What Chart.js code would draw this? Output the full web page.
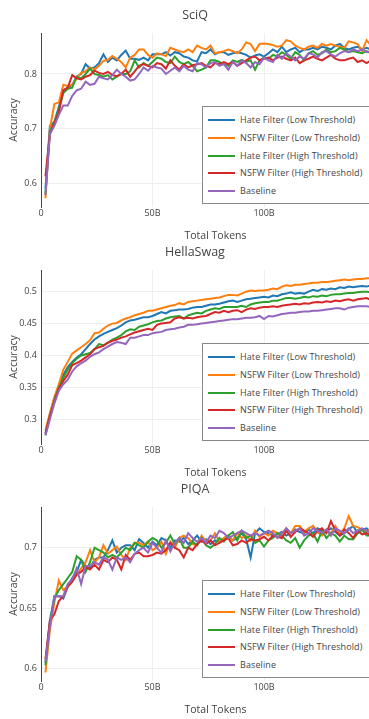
<!DOCTYPE html>
<html><head><meta charset="utf-8">
<script src="https://cdn.jsdelivr.net/npm/chart.js@4"></script>
<style>
html,body{margin:0;padding:0;background:#fff;overflow:hidden;width:369px;height:719px;position:relative;}
.panel{position:absolute;left:0;width:390px;height:245px;}
.panel canvas{display:block;position:absolute;left:0;top:0;}
.legend{position:absolute;left:202px;top:106px;width:200px;height:96px;border:1px solid #888;background:#fff;font-family:"Open Sans",sans-serif;font-size:9px;letter-spacing:0.1px;color:#444;}
.item{position:absolute;left:0;height:14px;line-height:14px;white-space:nowrap;width:195px;}
.swatch{position:absolute;left:5px;top:6px;width:27px;height:2px;}
.label{position:absolute;left:37px;top:0;}
</style></head>
<body>
<div class="panel" id="p0" style="top:0px"><canvas id="c0" width="390" height="245"></canvas></div>
<div class="panel" id="p1" style="top:237px"><canvas id="c1" width="390" height="245"></canvas></div>
<div class="panel" id="p2" style="top:474px"><canvas id="c2" width="390" height="245"></canvas></div>
<script>
const tokens = [2,4,6,8,10,12,14,16,18,20,22,24,26,28,30,32,34,36,38,40,42,44,46,48,50,52,54,56,58,60,62,64,66,68,70,72,74,76,78,80,82,84,86,88,90,92,94,96,98,100,102,104,106,108,110,112,114,116,118,120,122,124,126,128,130,132,134,136,138,140,142,144,146,148];
const seriesNames = ['Hate Filter (Low Threshold)','NSFW Filter (Low Threshold)','Hate Filter (High Threshold)','NSFW Filter (High Threshold)','Baseline'];
const seriesColors = ['#1f77b4','#ff7f0e','#2ca02c','#d62728','#9467bd'];
const xTicks = [0,50,100];
const xTickLabels = ['0','50B','100B'];

const sciqTicks = [0.6,0.7,0.8];
const sciqTickLabels = ['0.6','0.7','0.8'];
const sciqHateLow = [0.590,0.705,0.712,0.740,0.770,0.775,0.780,0.795,0.800,0.818,
0.810,0.812,0.820,0.836,0.822,0.830,0.825,0.835,0.843,0.828,
0.828,0.826,0.830,0.825,0.836,0.836,0.836,0.840,0.834,0.840,
0.838,0.832,0.830,0.825,0.823,0.840,0.838,0.845,0.836,0.840,
0.840,0.835,0.838,0.840,0.838,0.835,0.830,0.834,0.836,0.832,
0.838,0.845,0.840,0.850,0.840,0.845,0.848,0.840,0.845,0.845,
0.848,0.845,0.850,0.848,0.845,0.852,0.855,0.848,0.845,0.848,
0.850,0.845,0.848,0.845];
const sciqNsfwLow = [0.572,0.700,0.745,0.748,0.780,0.778,0.780,0.792,0.802,0.805,
0.812,0.808,0.815,0.824,0.826,0.833,0.828,0.822,0.812,0.830,
0.835,0.845,0.845,0.835,0.830,0.838,0.836,0.833,0.848,0.845,
0.842,0.840,0.845,0.840,0.852,0.848,0.845,0.852,0.838,0.840,
0.842,0.845,0.842,0.838,0.845,0.858,0.855,0.842,0.855,0.856,
0.855,0.853,0.850,0.852,0.862,0.860,0.852,0.848,0.845,0.850,
0.852,0.848,0.855,0.852,0.855,0.852,0.850,0.848,0.860,0.858,
0.855,0.842,0.862,0.852];
const sciqHateHigh = [0.580,0.695,0.712,0.735,0.765,0.773,0.775,0.795,0.792,0.800,
0.810,0.800,0.798,0.795,0.798,0.790,0.795,0.800,0.800,0.805,
0.825,0.812,0.820,0.815,0.822,0.830,0.828,0.822,0.820,0.832,
0.822,0.818,0.822,0.815,0.805,0.808,0.812,0.825,0.825,0.822,
0.818,0.815,0.825,0.822,0.826,0.822,0.825,0.808,0.825,0.830,
0.828,0.835,0.832,0.840,0.835,0.828,0.840,0.835,0.825,0.838,
0.842,0.835,0.838,0.845,0.840,0.842,0.848,0.845,0.840,0.842,
0.840,0.838,0.842,0.838];
const sciqNsfwHigh = [0.612,0.690,0.710,0.730,0.770,0.775,0.798,0.792,0.790,0.795,
0.798,0.806,0.802,0.800,0.804,0.798,0.796,0.800,0.808,0.795,
0.805,0.815,0.818,0.815,0.812,0.820,0.818,0.810,0.825,0.815,
0.808,0.818,0.812,0.816,0.818,0.820,0.815,0.812,0.820,0.818,
0.822,0.818,0.822,0.815,0.820,0.825,0.830,0.832,0.825,0.828,
0.830,0.825,0.830,0.832,0.828,0.825,0.830,0.820,0.825,0.828,
0.832,0.828,0.825,0.830,0.835,0.828,0.825,0.825,0.828,0.830,
0.822,0.825,0.820,0.825];
const sciqBaseline = [0.578,0.690,0.705,0.725,0.742,0.742,0.760,0.770,0.773,0.786,
0.780,0.782,0.795,0.792,0.790,0.798,0.808,0.800,0.795,0.788,
0.790,0.800,0.812,0.806,0.815,0.812,0.810,0.800,0.806,0.812,
0.805,0.815,0.808,0.805,0.820,0.818,0.812,0.820,0.822,0.815,
0.818,0.808,0.822,0.815,0.825,0.820,0.812,0.822,0.818,0.830,
0.825,0.822,0.835,0.828,0.838,0.832,0.825,0.832,0.828,0.838,
0.836,0.830,0.840,0.842,0.836,0.832,0.838,0.842,0.840,0.845,
0.842,0.845,0.840,0.842];

const hellaTicks = [0.3,0.35,0.4,0.45,0.5];
const hellaTickLabels = ['0.3','0.35','0.4','0.45','0.5'];
const hellaHateLow = [0.278,0.308,0.333,0.352,0.370,0.382,0.390,0.397,0.402,0.410,
0.418,0.425,0.430,0.434,0.437,0.440,0.443,0.447,0.452,0.455,
0.456,0.458,0.460,0.460,0.462,0.465,0.468,0.466,0.470,0.471,
0.472,0.472,0.473,0.475,0.476,0.476,0.478,0.480,0.480,0.481,
0.483,0.485,0.486,0.484,0.486,0.488,0.489,0.490,0.491,0.492,
0.491,0.494,0.493,0.496,0.497,0.499,0.497,0.498,0.497,0.500,
0.503,0.501,0.504,0.503,0.505,0.504,0.507,0.506,0.508,0.507,
0.508,0.509,0.508,0.510];
const hellaNsfwLow = [0.283,0.310,0.335,0.355,0.378,0.390,0.403,0.408,0.413,0.418,
0.424,0.435,0.436,0.442,0.447,0.450,0.451,0.455,0.458,0.460,
0.463,0.465,0.467,0.470,0.470,0.472,0.474,0.476,0.478,0.479,
0.482,0.480,0.484,0.485,0.486,0.487,0.488,0.489,0.490,0.491,
0.493,0.495,0.495,0.494,0.497,0.500,0.502,0.501,0.502,0.502,
0.503,0.505,0.504,0.508,0.510,0.509,0.511,0.511,0.512,0.513,
0.514,0.514,0.515,0.515,0.516,0.517,0.518,0.519,0.518,0.519,
0.520,0.520,0.521,0.521];
const hellaHateHigh = [0.275,0.305,0.330,0.350,0.365,0.378,0.388,0.395,0.400,0.402,
0.404,0.410,0.418,0.416,0.420,0.425,0.428,0.432,0.438,0.441,
0.440,0.445,0.447,0.449,0.452,0.454,0.455,0.458,0.460,0.461,
0.462,0.458,0.463,0.465,0.467,0.466,0.470,0.472,0.474,0.473,
0.476,0.476,0.476,0.476,0.478,0.476,0.480,0.482,0.483,0.484,
0.484,0.486,0.486,0.488,0.490,0.490,0.489,0.490,0.492,0.491,
0.493,0.492,0.494,0.493,0.495,0.496,0.496,0.497,0.498,0.498,
0.499,0.500,0.500,0.499];
const hellaNsfwHigh = [0.278,0.305,0.328,0.348,0.360,0.370,0.385,0.388,0.392,0.397,
0.402,0.410,0.413,0.415,0.420,0.423,0.425,0.428,0.430,0.433,
0.436,0.438,0.440,0.442,0.440,0.448,0.450,0.451,0.452,0.458,
0.460,0.458,0.459,0.458,0.460,0.461,0.462,0.465,0.468,0.467,
0.470,0.468,0.470,0.471,0.468,0.472,0.474,0.473,0.475,0.476,
0.476,0.477,0.476,0.478,0.479,0.480,0.481,0.480,0.482,0.481,
0.483,0.484,0.483,0.485,0.484,0.486,0.485,0.487,0.488,0.486,
0.488,0.489,0.490,0.487];
const hellaBaseline = [0.275,0.300,0.325,0.345,0.355,0.362,0.375,0.383,0.388,0.392,
0.398,0.402,0.405,0.410,0.414,0.418,0.421,0.420,0.418,0.428,
0.428,0.430,0.432,0.432,0.435,0.436,0.437,0.440,0.441,0.442,
0.444,0.445,0.448,0.448,0.449,0.450,0.451,0.452,0.453,0.454,
0.455,0.456,0.457,0.457,0.458,0.459,0.459,0.460,0.462,0.457,
0.462,0.461,0.463,0.465,0.466,0.467,0.467,0.468,0.469,0.469,
0.470,0.470,0.471,0.472,0.473,0.474,0.474,0.472,0.475,0.476,
0.477,0.477,0.477,0.476];

const piqaTicks = [0.6,0.65,0.7];
const piqaTickLabels = ['0.6','0.65','0.7'];
const piqaHateLow = [0.605,0.640,0.660,0.660,0.658,0.668,0.675,0.680,0.690,0.685,
0.683,0.690,0.692,0.692,0.698,0.706,0.696,0.700,0.702,0.702,
0.698,0.707,0.704,0.700,0.705,0.702,0.708,0.706,0.700,0.706,
0.705,0.708,0.703,0.706,0.710,0.705,0.707,0.703,0.706,0.705,
0.708,0.710,0.706,0.708,0.712,0.707,0.692,0.712,0.716,0.713,
0.712,0.710,0.711,0.713,0.710,0.712,0.715,0.713,0.712,0.715,
0.712,0.716,0.714,0.713,0.716,0.713,0.710,0.712,0.715,0.718,
0.712,0.715,0.716,0.713];
const piqaNsfwLow = [0.597,0.632,0.655,0.673,0.665,0.668,0.672,0.678,0.683,0.688,
0.698,0.688,0.692,0.702,0.695,0.698,0.701,0.694,0.690,0.700,
0.704,0.704,0.702,0.705,0.698,0.700,0.705,0.695,0.705,0.700,
0.708,0.710,0.708,0.703,0.702,0.710,0.705,0.706,0.712,0.705,
0.708,0.710,0.706,0.712,0.708,0.710,0.706,0.714,0.709,0.712,
0.710,0.714,0.712,0.708,0.716,0.712,0.718,0.718,0.713,0.716,
0.718,0.713,0.710,0.715,0.712,0.718,0.711,0.716,0.726,0.718,
0.717,0.715,0.713,0.716];
const piqaHateHigh = [0.603,0.638,0.658,0.665,0.670,0.675,0.680,0.693,0.690,0.680,
0.688,0.700,0.698,0.696,0.692,0.694,0.692,0.696,0.700,0.698,
0.704,0.702,0.700,0.705,0.708,0.706,0.700,0.704,0.710,0.703,
0.708,0.700,0.700,0.705,0.702,0.708,0.702,0.700,0.703,0.708,
0.705,0.710,0.713,0.706,0.714,0.708,0.710,0.704,0.706,0.701,
0.706,0.708,0.712,0.710,0.706,0.704,0.708,0.700,0.706,0.710,
0.712,0.705,0.714,0.708,0.712,0.710,0.705,0.710,0.707,0.707,
0.712,0.715,0.710,0.710];
const piqaNsfwHigh = [0.608,0.640,0.645,0.656,0.660,0.668,0.672,0.678,0.680,0.684,
0.682,0.686,0.682,0.690,0.688,0.692,0.690,0.682,0.694,0.690,
0.695,0.696,0.693,0.693,0.694,0.696,0.695,0.698,0.704,0.700,
0.698,0.692,0.700,0.698,0.703,0.706,0.703,0.706,0.702,0.704,
0.706,0.708,0.702,0.703,0.706,0.704,0.707,0.706,0.707,0.709,
0.706,0.710,0.709,0.708,0.714,0.709,0.713,0.716,0.714,0.712,
0.709,0.714,0.716,0.712,0.722,0.714,0.710,0.715,0.712,0.708,
0.714,0.711,0.712,0.710];
const piqaBaseline = [0.606,0.635,0.660,0.660,0.660,0.670,0.674,0.683,0.670,0.685,
0.685,0.688,0.686,0.692,0.690,0.682,0.692,0.690,0.692,0.688,
0.695,0.698,0.700,0.696,0.704,0.700,0.696,0.706,0.697,0.704,
0.708,0.704,0.712,0.708,0.705,0.708,0.704,0.710,0.708,0.714,
0.712,0.708,0.710,0.712,0.714,0.712,0.710,0.712,0.710,0.712,
0.714,0.712,0.708,0.712,0.716,0.712,0.714,0.716,0.710,0.712,
0.716,0.714,0.712,0.715,0.710,0.716,0.714,0.712,0.716,0.712,
0.714,0.716,0.714,0.712];

const panels = [
  {title:'SciQ', series:[sciqHateLow,sciqNsfwLow,sciqHateHigh,sciqNsfwHigh,sciqBaseline], ticks:sciqTicks, labels:sciqTickLabels, min:0.556, max:0.8752},
  {title:'HellaSwag', series:[hellaHateLow,hellaNsfwLow,hellaHateHigh,hellaNsfwHigh,hellaBaseline], ticks:hellaTicks, labels:hellaTickLabels, min:0.2613, max:0.534},
  {title:'PIQA', series:[piqaHateLow,piqaNsfwLow,piqaHateHigh,piqaNsfwHigh,piqaBaseline], ticks:piqaTicks, labels:piqaTickLabels, min:0.590, max:0.7336}
];

Chart.defaults.font.family = "'Open Sans', sans-serif";
Chart.defaults.color = '#444';

panels.forEach((p, pi) => {
  const ctx = document.getElementById('c' + pi);
  new Chart(ctx, {
    type: 'line',
    data: {
      datasets: p.series.map((vals, i) => ({
        label: seriesNames[i],
        data: vals.map((v, k) => ({x: tokens[k], y: v})),
        borderColor: seriesColors[i],
        backgroundColor: seriesColors[i],
        borderWidth: 2,
        pointRadius: 0,
        tension: 0,
        fill: false,
        order: 5 - i
      }))
    },
    options: {
      responsive: false,
      animation: false,
      devicePixelRatio: 1,
      layout: {padding: 0},
      plugins: {
        legend: {display: false},
        tooltip: {enabled: false},
        title: {display: true, text: p.title, color: '#444', font: {size: 12.5, weight: 'normal'}, padding: {top: 8, bottom: 10}}
      },
      scales: {
        x: {
          type: 'linear', min: 0, max: 156.5,
          afterFit(s) { s.height = 38; },
          afterBuildTicks(s) { s.ticks = xTicks.map(v => ({value: v})); },
          ticks: {font: {size: 9}, color: '#444', padding: 1, maxRotation: 0, autoSkip: false,
                  callback: (v, i) => xTickLabels[i]},
          grid: {color: '#eee', drawTicks: false},
          border: {display: false},
          title: {display: true, text: 'Total Tokens', color: '#444', font: {size: 10.5}, padding: {top: 0, bottom: 3}}
        },
        y: {
          min: p.min, max: p.max,
          afterFit(s) { s.width = 41; },
          afterBuildTicks(s) { s.ticks = p.ticks.map(v => ({value: v})); },
          ticks: {font: {size: 9}, color: '#444', padding: 4, callback: (v, i) => p.labels[i]},
          grid: {color: '#eee', drawTicks: false},
          border: {display: true, color: '#444', width: 1},
          title: {display: true, text: 'Accuracy', color: '#444', font: {size: 10.5}, padding: {top: 8, bottom: 0}}
        }
      }
    }
  });
  const lg = document.createElement('div');
  lg.className = 'legend';
  seriesNames.forEach((name, i) => {
    const it = document.createElement('div');
    it.className = 'item';
    it.style.top = (6 + i * 17.75) + 'px';
    const sw = document.createElement('div');
    sw.className = 'swatch';
    sw.style.background = seriesColors[i];
    const lb = document.createElement('span');
    lb.className = 'label';
    lb.textContent = name;
    it.appendChild(sw); it.appendChild(lb);
    lg.appendChild(it);
  });
  document.getElementById('p' + pi).appendChild(lg);
});
</script>
</body></html>
